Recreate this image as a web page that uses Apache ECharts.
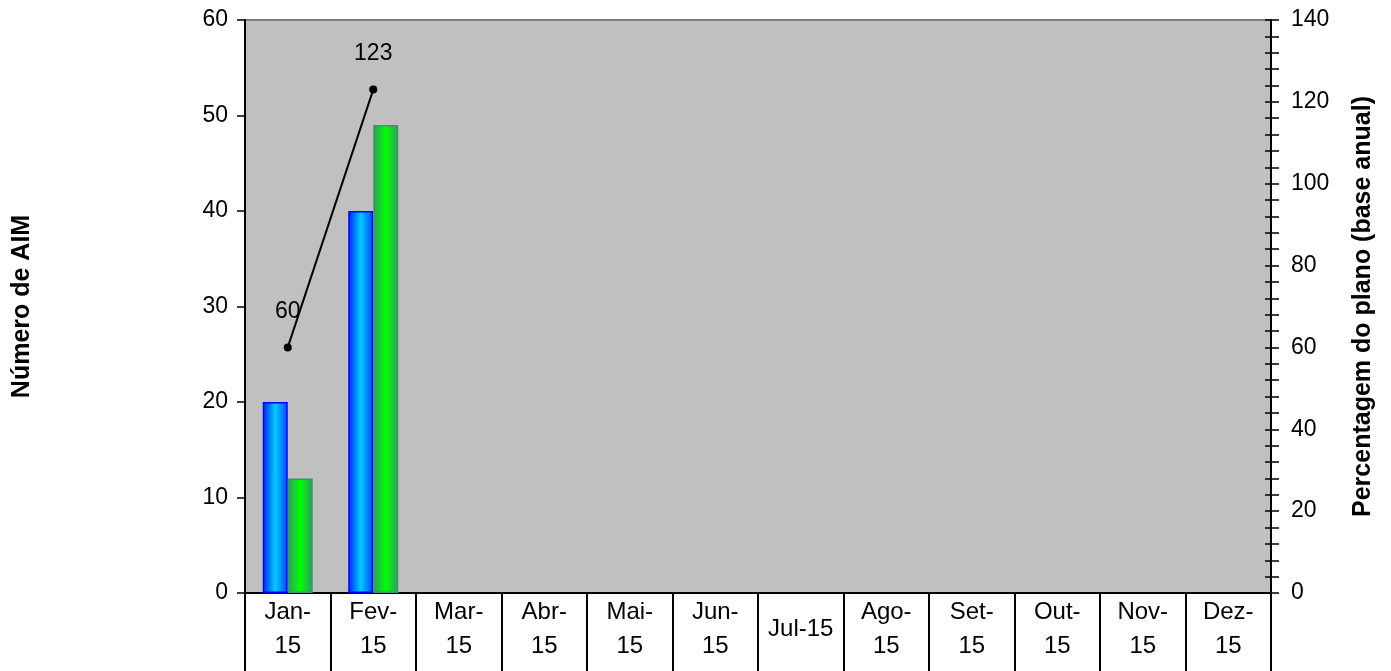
<!DOCTYPE html>
<html>
<head>
<meta charset="utf-8">
<script src="https://cdn.jsdelivr.net/npm/echarts@6/dist/echarts.min.js"></script>
<style>
html,body{margin:0;padding:0;background:#fff;}
#chart{width:1391px;height:671px;}
</style>
</head>
<body>
<div id="chart"></div>
<script>
var categories = ['Jan-\n15','Fev-\n15','Mar-\n15','Abr-\n15','Mai-\n15','Jun-\n15','Jul-15','Ago-\n15','Set-\n15','Out-\n15','Nov-\n15','Dez-\n15'];
var seriesBlue = [20, 40, null, null, null, null, null, null, null, null, null, null];
var seriesGreen = [12, 49, null, null, null, null, null, null, null, null, null, null];
var seriesPct = [60, 123, null, null, null, null, null, null, null, null, null, null];
var leftTicks = [0, 10, 20, 30, 40, 50, 60];
var rightTicks = [0, 20, 40, 60, 80, 100, 120, 140];

var FONT = 'Liberation Sans, Arial, sans-serif';
var chart = echarts.init(document.getElementById('chart'));
chart.setOption({
  animation: false,
  textStyle: {fontFamily: FONT},
  grid: {left: 245, right: 120, top: 20, bottom: 78, show: true,
         backgroundColor: '#c0c0c0', borderColor: '#808080', borderWidth: 2},
  xAxis: {
    type: 'category', data: categories, boundaryGap: true,
    axisLine: {lineStyle: {color: '#000', width: 2}},
    axisTick: {show: true, length: 80, lineStyle: {color: '#000', width: 2}},
    axisLabel: {
      margin: 2, fontSize: 24, color: '#000', fontFamily: FONT, interval: 0, lineHeight: 34,
      formatter: function (v) { return v.indexOf('\n') >= 0 ? v : '{one|' + v + '}'; },
      rich: {one: {fontSize: 24, lineHeight: 68, fontFamily: FONT, color: '#000'}}
    },
    splitLine: {show: false}
  },
  yAxis: [
    {
      type: 'value', min: leftTicks[0], max: leftTicks[leftTicks.length - 1], interval: 10,
      position: 'left',
      name: 'Número de AIM', nameLocation: 'middle', nameGap: 210,
      nameTextStyle: {fontSize: 25, fontWeight: 'bold', color: '#000', fontFamily: FONT},
      axisLine: {show: true, lineStyle: {color: '#000', width: 2}},
      axisTick: {show: true, length: 8, lineStyle: {color: '#000', width: 1.5}},
      axisLabel: {fontSize: 23, color: '#000', margin: 17, fontFamily: FONT},
      splitLine: {show: false}
    },
    {
      type: 'value', min: rightTicks[0], max: rightTicks[rightTicks.length - 1], interval: 20,
      position: 'right',
      name: 'Percentagem do plano (base anual)', nameLocation: 'middle', nameGap: 80,
      nameTextStyle: {fontSize: 25, fontWeight: 'bold', color: '#000', fontFamily: FONT},
      axisLine: {show: true, lineStyle: {color: '#000', width: 2}},
      axisTick: {show: true, length: 8, lineStyle: {color: '#000', width: 1.5}},
      minorTick: {show: true, splitNumber: 5, length: 8, lineStyle: {color: '#000', width: 1.5}},
      axisLabel: {fontSize: 23, color: '#000', margin: 20, fontFamily: FONT},
      splitLine: {show: false}, minorSplitLine: {show: false}
    },
    {
      type: 'value', min: rightTicks[0], max: rightTicks[rightTicks.length - 1], interval: 20,
      position: 'right', offset: 0,
      axisLine: {show: false},
      axisTick: {show: true, inside: true, length: 6, lineStyle: {color: '#000', width: 1.5}},
      minorTick: {show: true, splitNumber: 5, length: 6, lineStyle: {color: '#000', width: 1.5}},
      axisLabel: {show: false},
      splitLine: {show: false}, minorSplitLine: {show: false}
    }
  ],
  series: [
    {
      type: 'bar', data: seriesBlue, yAxisIndex: 0, barWidth: 25, barGap: '0%',
      itemStyle: {
        color: new echarts.graphic.LinearGradient(0, 0, 1, 0, [
          {offset: 0, color: '#0022ff'}, {offset: 0.5, color: '#00ccff'}, {offset: 1, color: '#0044ff'}
        ]),
        borderColor: '#0000ff', borderWidth: 1.5
      }
    },
    {
      type: 'bar', data: seriesGreen, yAxisIndex: 0, barWidth: 25, barGap: '0%',
      itemStyle: {
        color: new echarts.graphic.LinearGradient(0, 0, 1, 0, [
          {offset: 0, color: '#339966'}, {offset: 0.5, color: '#00ff00'}, {offset: 1, color: '#339966'}
        ]),
        borderColor: '#339966', borderWidth: 1.5
      }
    },
    {
      type: 'line', data: seriesPct, yAxisIndex: 1, z: 5,
      symbol: 'circle', symbolSize: 8, connectNulls: false,
      lineStyle: {color: '#000', width: 2},
      itemStyle: {color: '#000'},
      label: {show: true, position: 'top', distance: 20, fontSize: 23, color: '#000', fontFamily: FONT}
    }
  ]
});
</script>
</body>
</html>
